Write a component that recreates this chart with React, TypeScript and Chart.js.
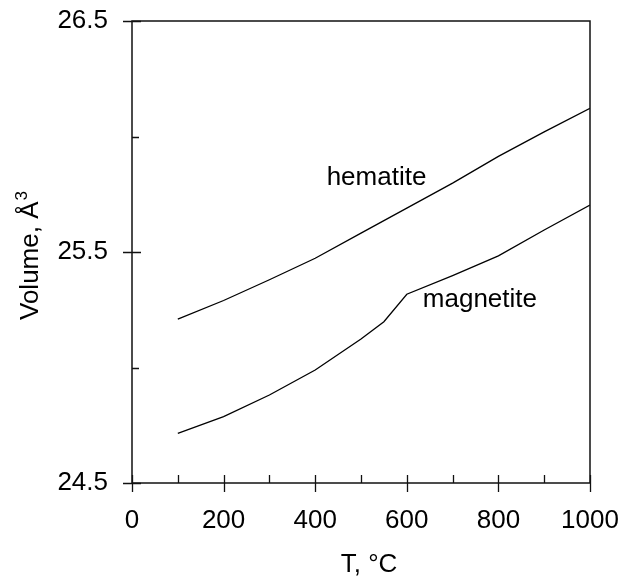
import React, { useEffect, useRef } from "react";
import { Chart, registerables } from "chart.js";

Chart.register(...registerables);

// Data
const hematiteT = [100, 200, 300, 400, 500, 600, 700, 800, 900, 1000];
const hematiteV = [25.209, 25.29, 25.38, 25.473, 25.582, 25.69, 25.798, 25.914, 26.02, 26.122];
const magnetiteT = [100, 200, 300, 400, 500, 550, 600, 700, 800, 900, 1000];
const magnetiteV = [24.715, 24.787, 24.881, 24.989, 25.123, 25.198, 25.317, 25.398, 25.483, 25.595, 25.703];

const seriesNames = ["hematite", "magnetite"];
const labelT = [425, 635];
const labelV = [25.79, 25.262];

const xMin = 0;
const xMax = 1000;
const xStep = 100;
const yMin = 24.5;
const yMax = 26.5;
const yStep = 0.5;

const xTitle = "T, °C";
const yTitleMain = "Volume, Å";
const yTitleSup = "3";

const FONT = "'Liberation Sans', Arial, Helvetica, sans-serif";

const framePlugin = {
  id: "frameTicks",
  afterDraw(chart: any) {
    const ctx = chart.ctx as CanvasRenderingContext2D;
    const xs = chart.scales.x;
    const ys = chart.scales.y;
    const { left, right, top, bottom } = chart.chartArea;
    ctx.save();
    ctx.strokeStyle = "#111";
    ctx.lineWidth = 1.5;
    ctx.strokeRect(left, top, right - left, bottom - top);

    ctx.lineWidth = 1.3;
    ctx.beginPath();
    // x ticks
    for (let v = xMin; v <= xMax + 1e-9; v += xStep) {
      const px = Math.round(xs.getPixelForValue(v)) + 0.5;
      const major = Math.round(v) % 200 === 0;
      if (major) {
        ctx.moveTo(px, bottom - 8);
        ctx.lineTo(px, bottom + 9);
      } else {
        ctx.moveTo(px, bottom - 8);
        ctx.lineTo(px, bottom);
      }
    }
    // y ticks
    for (let v = yMin; v <= yMax + 1e-9; v += yStep) {
      const py = Math.round(ys.getPixelForValue(v)) + 0.5;
      const major = Math.round(v * 2) % 2 === 1;
      if (major) {
        ctx.moveTo(left - 9, py);
        ctx.lineTo(left + 9, py);
      } else {
        ctx.moveTo(left, py);
        ctx.lineTo(left + 7, py);
      }
    }
    ctx.stroke();

    // series labels
    ctx.fillStyle = "#000";
    ctx.font = `26px ${FONT}`;
    ctx.textAlign = "left";
    ctx.textBaseline = "alphabetic";
    seriesNames.forEach((name, i) => {
      ctx.fillText(name, xs.getPixelForValue(labelT[i]), ys.getPixelForValue(labelV[i]));
    });

    // x title
    ctx.textAlign = "center";
    ctx.textBaseline = "middle";
    ctx.fillText(xTitle, (left + right) / 2 + 8, 565);

    // y title
    ctx.save();
    ctx.translate(38, 320);
    ctx.rotate(-Math.PI / 2);
    ctx.textAlign = "left";
    ctx.textBaseline = "alphabetic";
    ctx.font = `26px ${FONT}`;
    ctx.fillText(yTitleMain, 0, 0);
    const w = ctx.measureText(yTitleMain).width;
    ctx.font = `17px ${FONT}`;
    ctx.fillText(yTitleSup, w + 1, -11);
    ctx.restore();

    ctx.restore();
  },
};

export default function App() {
  const ref = useRef<HTMLCanvasElement | null>(null);

  useEffect(() => {
    if (!ref.current) return;
    const chart = new Chart(ref.current, {
      type: "line",
      data: {
        datasets: [
          {
            label: seriesNames[0],
            data: hematiteT.map((t, i) => ({ x: t, y: hematiteV[i] })),
            borderColor: "#000",
            borderWidth: 1.3,
            pointRadius: 0,
            tension: 0,
            fill: false,
          },
          {
            label: seriesNames[1],
            data: magnetiteT.map((t, i) => ({ x: t, y: magnetiteV[i] })),
            borderColor: "#000",
            borderWidth: 1.3,
            pointRadius: 0,
            tension: 0,
            fill: false,
          },
        ],
      },
      options: {
        responsive: false,
        animation: false,
        devicePixelRatio: 1,
        layout: { padding: { left: 0, top: 21, right: 32, bottom: 0 } },
        plugins: {
          legend: { display: false },
          tooltip: { enabled: false },
          title: { display: false },
        },
        scales: {
          x: {
            type: "linear",
            min: xMin,
            max: xMax,
            grid: { display: false, drawTicks: false },
            border: { display: false },
            ticks: {
              stepSize: xStep,
              autoSkip: false,
              maxRotation: 0,
              padding: 22,
              color: "#000",
              font: { family: FONT, size: 26 },
              callback: (v: any) => (Math.round(v) % 200 === 0 ? String(v) : ""),
            },
            afterFit: (s: any) => {
              s.height = 97;
              s.paddingLeft = 0;
              s.paddingRight = 0;
            },
          },
          y: {
            type: "linear",
            min: yMin,
            max: yMax,
            grid: { display: false, drawTicks: false },
            border: { display: false },
            ticks: {
              stepSize: yStep,
              autoSkip: false,
              padding: 24,
              color: "#000",
              font: { family: FONT, size: 26 },
              callback: (v: any) => (Math.round(v * 2) % 2 === 1 ? Number(v).toFixed(1) : ""),
            },
            afterFit: (s: any) => {
              s.width = 132;
              s.paddingTop = 0;
              s.paddingBottom = 0;
            },
          },
        },
      },
      plugins: [framePlugin],
    });
    return () => chart.destroy();
  }, []);

  return (
    <div style={{ position: "absolute", left: 0, top: 0, width: 622, height: 580, background: "#fff" }}>
      <canvas ref={ref} width={622} height={580} />
    </div>
  );
}
